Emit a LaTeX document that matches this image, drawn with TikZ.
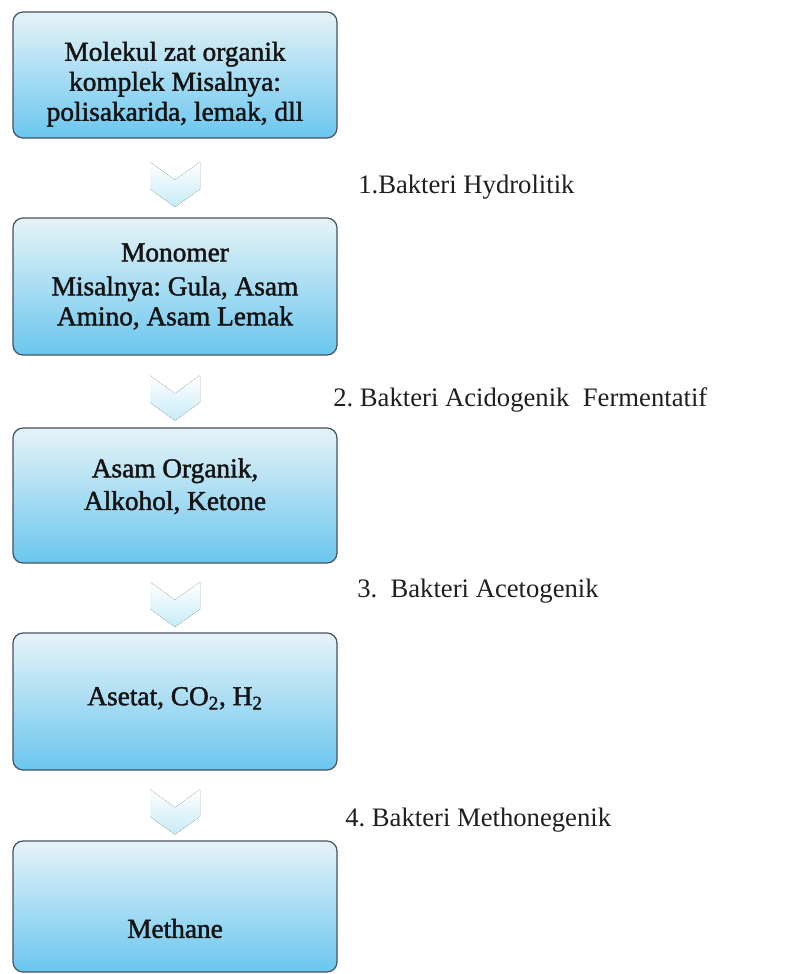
\documentclass[tikz,border=0pt]{standalone}
\usepackage{fontspec}
\setmainfont{Liberation Serif}
\newfontfamily\stagefont[FakeBold=1.6]{Liberation Serif}
\usepackage{tikz}
\usetikzlibrary{calc}
\definecolor{boxTop}{HTML}{E6F3F7}
\definecolor{boxBottom}{HTML}{6AC6EF}
\definecolor{boxLine}{HTML}{46525E}
\definecolor{chevTop}{HTML}{FFFFFF}
\definecolor{chevBottom}{HTML}{C6EBF7}
% struts to move the text of a stage up or down
\newcommand{\pushdown}[1]{\rule{0pt}{#1}}
\newcommand{\pushup}[1]{\rule[-#1]{0pt}{0pt}}

\tikzset{
    stage/.style={draw=boxLine, line width=0.9pt, rounded corners=7.5pt,
        top color=boxTop, bottom color=boxBottom, minimum width=243pt,
        align=center, text=black!92,
        font=\fontsize{20.5}{22.5}\selectfont\stagefont\frenchspacing},
    bakteri/.style={anchor=west, inner sep=0pt, text=black!88,
        font=\fontsize{20}{23}\selectfont\frenchspacing},
}

\begin{document}
\begin{tikzpicture}[x=0.75pt, y=-0.75pt]
    \useasboundingbox (0,0) rectangle (786,974);
    % stages
    \node[stage, minimum height=94.5pt] (organik) at (175,75)
        {\pushdown{28pt}Molekul zat organik\\komplek Misalnya:\\polisakarida, lemak, dll};
    \node[stage, minimum height=102.75pt] (monomer) at (175,286.5)
        {Monomer\\[3pt]Misalnya: Gula, Asam\\Amino, Asam Lemak};
    \node[stage, minimum height=101.25pt] (asam) at (175,495.5)
        {Asam Organik,\\[2pt]Alkohol, Ketone\pushup{17pt}};
    \node[stage, minimum height=102.75pt] (asetat) at (175,701.5)
        {Asetat, CO\textsubscript{2}, H\textsubscript{2}\pushup{8pt}};
    \node[stage, minimum height=98.25pt] (methane) at (175,906.5)
        {\pushdown{2.3em}Methane};
    % chevrons between stages
    \foreach \a/\b in {organik/monomer, monomer/asam, asam/asetat, asetat/methane} {
        \coordinate (mid) at ($(\a.south)!0.5!(\b.north)+(0,6)$);
        \fill[top color=chevTop, bottom color=chevBottom]
            ($(mid)+(-25,-22)$) -- ++(25,18) -- ++(25,-18) -- ++(0,27)
            -- ++(-25,18) -- ++(-25,-18) -- cycle;
    }
    % bacteria
    \node[bakteri] (hidro) at (358,187) {1.Bakteri Hydrolitik};
    \node[bakteri] (acido) at (333,400) {2. Bakteri Acidogenik\ \ Fermentatif};
    \node[bakteri] (aceto) at (357,591) {3.\ \ Bakteri Acetogenik};
    \node[bakteri] (metha) at (345,820) {4. Bakteri Methonegenik};
\end{tikzpicture}
\end{document}
